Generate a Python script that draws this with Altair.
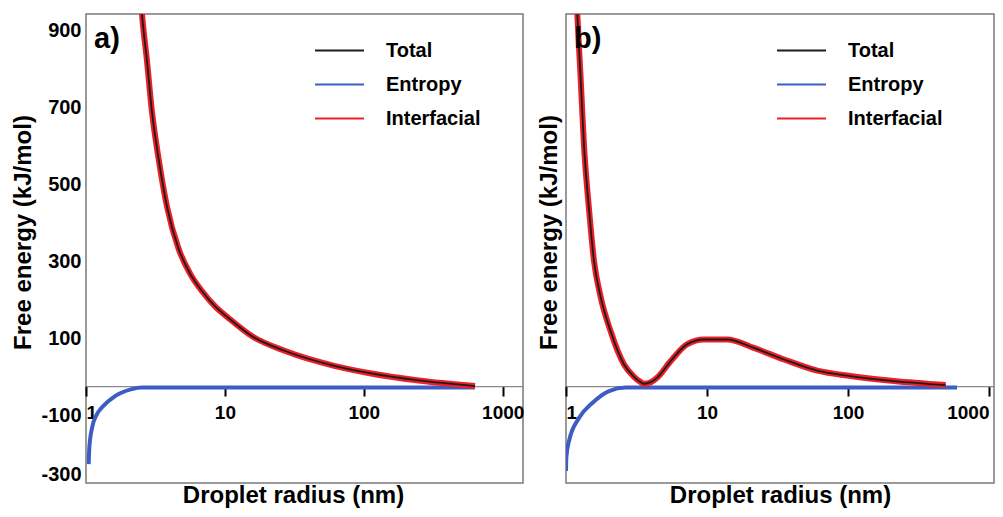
import altair as alt
import pandas as pd

# ---------------- data ----------------
SERIES = ["Total", "Entropy", "Interfacial"]
COLORS = ["#1c1c1c", "#3d5cc4", "#ec2027"]
X_TICKS = [1, 10, 100, 1000]
Y_TICKS = [900, 700, 500, 300, 100, -100, -252]
Y_BOTTOM_LABEL = "-300"
PANEL_LABELS = {"a": "a)", "b": "b)"}

# panel a)
A_INT_R = [2.45, 2.53, 2.75, 2.98, 3.33, 3.83, 4.64, 5.6, 6.83, 8.5, 10.6, 15.6, 27.2, 62.2, 108, 248, 632]
A_INT_V = [1036, 967, 844, 715, 591, 466, 357, 293, 247, 207, 177, 130, 91, 52, 34, 14.5, 0]
A_TOT_R = A_INT_R
A_TOT_V = A_INT_V
A_ENT_R = [1.046, 1.056, 1.105, 1.20, 1.30, 1.62, 2.14, 2.53, 3.2, 632]
A_ENT_V = [-203, -161, -109, -73, -56, -26, -8, -4, -4, -4]

# panel b)
B_INT_R = [1.15, 1.20, 1.27, 1.34, 1.46, 1.58, 1.76, 2.07, 2.58, 3.0, 3.39, 3.57, 4.0, 4.44,
           5.53, 7.25, 9.52, 13.9, 21.5, 35.2, 60.6, 104, 212, 493]
B_INT_V = [1140, 975, 801, 628, 455, 325, 232, 143, 56, 26, 10, 6, 10, 22,
           65, 109, 121, 121, 99, 69, 40, 26, 13, 2.6]
B_TOT_R = B_INT_R
B_TOT_V = B_INT_V
B_ENT_R = [1.0, 1.005, 1.05, 1.236, 1.537, 2.02, 2.65, 3.3, 593]
B_ENT_V = [-221, -186, -143, -83, -44, -13, -4, -4, -4]

# ---------------- layout / style ----------------
FONT = "Liberation Sans"
H = 469
W_A, W_B = 437, 428
XMAX_A, XMAX_B = 1400, 1085
Y_DOM = [-252, 967]
AXIS_OFFSET = -(0 - Y_DOM[0]) / (Y_DOM[1] - Y_DOM[0]) * H

rows = []
for panel, s, rs, vs in [
    ("a", "Total", A_TOT_R, A_TOT_V), ("a", "Entropy", A_ENT_R, A_ENT_V), ("a", "Interfacial", A_INT_R, A_INT_V),
    ("b", "Total", B_TOT_R, B_TOT_V), ("b", "Entropy", B_ENT_R, B_ENT_V), ("b", "Interfacial", B_INT_R, B_INT_V),
]:
    for r, v in zip(rs, vs):
        rows.append({"panel": panel, "series": s, "r": r, "v": v})
df = pd.DataFrame(rows)


def make_panel(name, xmax, width, show_ylabels, legend_x, xtitle_x, flush):
    base = alt.Chart(df).transform_filter(alt.datum.panel == name)
    color = alt.Color(
        "series:N",
        scale=alt.Scale(domain=SERIES, range=COLORS),
        legend=alt.Legend(
            title=None, orient="none", legendX=legend_x, legendY=23,
            symbolType="M-2,0H2", symbolSize=600, symbolStrokeWidth=2,
            labelFont=FONT, labelFontSize=20, labelFontWeight="bold", labelColor="black",
            rowPadding=10, labelOffset=33, padding=0,
        ),
    )
    x = alt.X(
        "r:Q",
        scale=alt.Scale(type="log", domain=[1, xmax], nice=False),
        axis=alt.Axis(
            values=X_TICKS, format="d", offset=AXIS_OFFSET, grid=False,
            domainColor="#8a8a8a", domainWidth=1.2,
            tickSize=10, tickWidth=2, tickColor="black",
            labelFont=FONT, labelFontSize=19, labelFontWeight="bold", labelColor="black",
            labelPadding=7, labelFlush=flush,
            title="Droplet radius (nm)", titleFont=FONT, titleFontSize=24, titleFontWeight="bold",
            titleColor="black", titleX=xtitle_x, titleY=116, titleBaseline="alphabetic",
        ),
    )
    y = alt.Y(
        "v:Q",
        scale=alt.Scale(domain=Y_DOM, nice=False, zero=False),
        axis=alt.Axis(
            values=Y_TICKS, labels=show_ylabels, ticks=False, domain=False, grid=False,
            labelExpr=f"datum.value < -200 ? '{Y_BOTTOM_LABEL}' : '' + datum.value",
            labelFont=FONT, labelFontSize=20, labelFontWeight="bold", labelColor="black",
            labelPadding=5, labelOffset=-9,
            title="Free energy (kJ/mol)", titleFont=FONT, titleFontSize=24, titleFontWeight="bold",
            titleColor="black", titlePadding=5, titleY=218,
        ),
    )
    layers = []
    for s, w in [("Entropy", 4), ("Interfacial", 6), ("Total", 1.8)]:
        layers.append(
            base.transform_filter(alt.datum.series == s)
            .mark_line(strokeWidth=w, clip=True, interpolate="monotone")
            .encode(x=x, y=y, color=color)
        )
    letter = (
        alt.Chart(pd.DataFrame({"label": [PANEL_LABELS[name]]}))
        .mark_text(font=FONT, fontSize=29, fontWeight="bold", color="black",
                   align="left", baseline="alphabetic")
        .encode(x=alt.value(8), y=alt.value(34), text="label:N")
    )
    return alt.layer(*layers, letter).properties(width=width, height=H)


chart = (
    alt.hconcat(
        make_panel("a", XMAX_A, W_A, True, 240, 207, True),
        make_panel("b", XMAX_B, W_B, False, 222, W_B / 2, 8),
        spacing=11,
    )
    .resolve_scale(color="independent")
    .resolve_legend(color="independent")
    .properties(padding={"left": 3, "top": 5, "right": 0, "bottom": 0}, background="white")
    .configure_view(stroke="#7a7a7a", strokeWidth=1.5)
)

chart.save("out.html", embed_options={"renderer": "svg", "actions": False})
